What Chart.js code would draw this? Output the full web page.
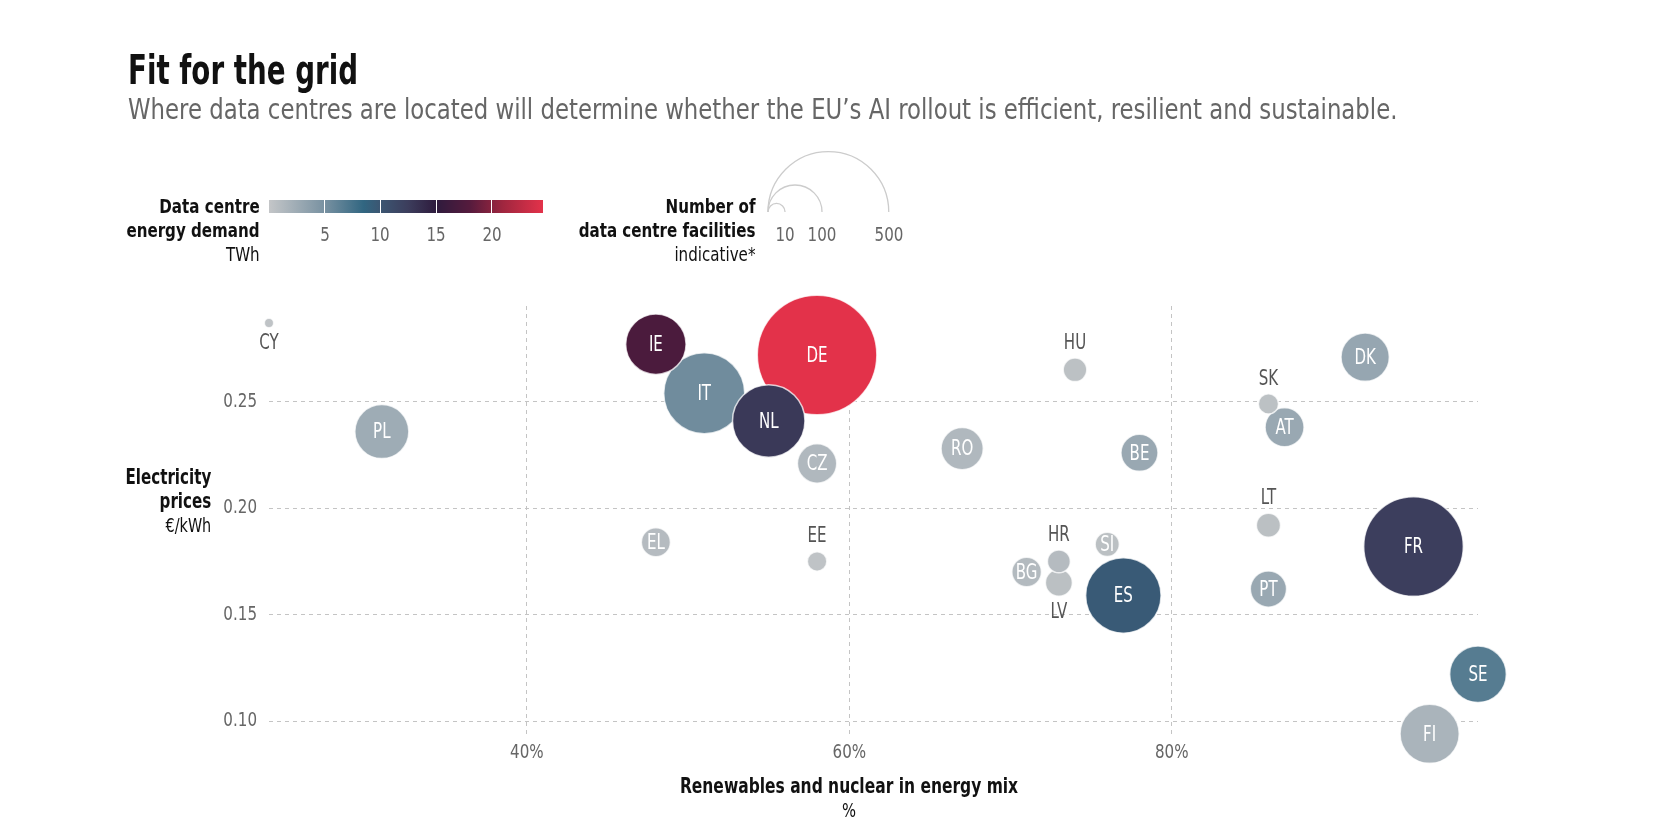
<!DOCTYPE html>
<html>
<head>
<meta charset="utf-8">
<script src="https://cdn.jsdelivr.net/npm/chart.js@4.4.1/dist/chart.umd.min.js"></script>
<style>
  html, body { margin: 0; padding: 0; background: #fff; }
  body { width: 1654px; height: 818px; position: relative; overflow: hidden;
         font-family: "Liberation Sans Narrow", "DejaVu Sans Condensed", "Roboto", sans-serif; }
  #chart { position: absolute; left: 0; top: 0; }
  .txt { position: absolute; white-space: nowrap; line-height: 1; }
  .title { left: 128px; top: 50px; font-size: 40px; font-weight: bold; color: #111;
           transform: scaleX(0.77); transform-origin: left top; }
  .sub { left: 128px; top: 96px; font-size: 28.5px; color: #666;
         transform: scaleX(0.89); transform-origin: left top; }
  .lgd { text-align: right; font-size: 20px; line-height: 24px; color: #111;
         transform: scaleX(0.84); transform-origin: right top; }
  .tick { font-size: 20px; color: #666; transform: translateX(-50%) scaleX(0.84); }
  .axt { font-size: 21px; line-height: 24px; color: #111; }
</style>
</head>
<body>
<canvas id="chart" width="1654" height="818"></canvas>

<div class="txt title">Fit for the grid</div>
<div class="txt sub">Where data centres are located will determine whether the EU’s AI rollout is efficient, resilient and sustainable.</div>

<div class="txt lgd" style="right:1394px; top:194px;"><b>Data centre<br>energy demand</b><br>TWh</div>
<div id="colorbar" style="position:absolute; left:269px; top:200px; width:274px; height:13px;"></div>
<div id="colorticks"></div>

<div class="txt lgd" style="right:899px; top:194px;"><b>Number of<br>data centre facilities</b><br>indicative*</div>
<svg id="sizelegend" style="position:absolute; left:0; top:0;" width="1654" height="260"></svg>
<div id="sizeticks"></div>

<div class="txt axt" style="right:1443px; top:465px; text-align:right; transform:scaleX(0.8); transform-origin:right top;"><b>Electricity<br>prices</b><br><span style="font-size:20px">€/kWh</span></div>
<div class="txt axt" style="left:849px; top:774px; text-align:center; transform:translateX(-50%) scaleX(0.82);"><b>Renewables and nuclear in energy mix</b><br><span style="font-size:20px">%</span></div>

<script>
// dados
const paises = ['CY', 'PL', 'IE', 'IT', 'DE', 'NL', 'CZ', 'EL', 'EE', 'RO', 'HU', 'BE', 'HR',
  'SI', 'BG', 'LV', 'ES', 'SK', 'AT', 'DK', 'LT', 'PT', 'FR', 'SE', 'FI'];
const renovaveis = [24, 31, 48, 51, 58, 55, 58, 48, 58, 67, 74, 78, 73,
  76, 71, 73, 77, 86, 87, 92, 86, 86, 95, 99, 96];
const precos = [0.287, 0.236, 0.277, 0.254, 0.272, 0.241, 0.221, 0.184, 0.175, 0.228, 0.265, 0.226, 0.175,
  0.183, 0.170, 0.165, 0.159, 0.249, 0.238, 0.271, 0.192, 0.162, 0.182, 0.122, 0.094];
const instalacoes = [3, 100, 125, 225, 490, 180, 53, 29, 13, 61, 19, 47, 18,
  20, 30, 25, 195, 14, 52, 80, 20, 45, 340, 110, 120];
const demandaTWh = [0.3, 2.5, 17.2, 5.4, 24.6, 12.8, 1.3, 1.0, 0.3, 1.3, 0.5, 2.8, 1.0,
  0.6, 1.1, 0.6, 9.6, 0.5, 2.8, 3.0, 0.6, 2.8, 12.4, 6.7, 1.7];

const ticksX = [40, 60, 80];
const ticksY = [0.10, 0.15, 0.20, 0.25];
const ticksDemanda = [5, 10, 15, 20];
const legendaInstalacoes = [10, 100, 500];

// rótulos fora da bolha (acima/abaixo)
const rotulosFora = { CY: 'below', EE: 'above', HU: 'above', HR: 'above', LV: 'below', SK: 'above', LT: 'above' };

// escala de cor
const paradas = [0, 5, 8.5, 10, 12.5, 15, 18, 21, 24.6];
const coresParadas = ['#c4c6c8', '#7891a1', '#316681', '#3c5672', '#3c3d5c', '#2e1b3d', '#551b3d', '#a0263f', '#e3324a'];
const maxDemanda = 24.6;
const fatorRaio = 2.7;
const fonteCanvas = '"Liberation Sans Narrow", "DejaVu Sans Condensed", sans-serif';

function hexParaRgb(h) {
  return [parseInt(h.slice(1, 3), 16), parseInt(h.slice(3, 5), 16), parseInt(h.slice(5, 7), 16)];
}
function corDemanda(v) {
  for (let i = 0; i < paradas.length - 1; i++) {
    if (v <= paradas[i + 1]) {
      const t = (v - paradas[i]) / (paradas[i + 1] - paradas[i]);
      const a = hexParaRgb(coresParadas[i]), b = hexParaRgb(coresParadas[i + 1]);
      const c = a.map((x, k) => Math.round(x + (b[k] - x) * t));
      return `rgb(${c[0]},${c[1]},${c[2]})`;
    }
  }
  return coresParadas[coresParadas.length - 1];
}
const raio = n => fatorRaio * Math.sqrt(n);

// texto estreito no canvas (a fonte original é condensada)
function textoEstreito(ctx, txt, x, y, sx) {
  ctx.save();
  ctx.translate(x, y);
  ctx.scale(sx, 1);
  ctx.fillText(txt, 0, 0);
  ctx.restore();
}

// legenda de cor
const barra = document.getElementById('colorbar');
barra.style.background = 'linear-gradient(to right,' +
  paradas.map((p, i) => `${coresParadas[i]} ${(p / maxDemanda * 100).toFixed(2)}%`).join(',') + ')';
ticksDemanda.forEach(t => {
  const x = t / maxDemanda * 274;
  const sep = document.createElement('div');
  sep.style.cssText = `position:absolute; left:${x - 0.5}px; top:0; width:1px; height:13px; background:#fff;`;
  barra.appendChild(sep);
  const lbl = document.createElement('div');
  lbl.className = 'txt tick';
  lbl.style.left = (269 + x) + 'px';
  lbl.style.top = '224px';
  lbl.textContent = t;
  document.getElementById('colorticks').appendChild(lbl);
});

// legenda de tamanho
const svg = document.getElementById('sizelegend');
const baseX = 768, baseY = 212;
legendaInstalacoes.forEach(n => {
  const r = raio(n);
  const p = document.createElementNS('http://www.w3.org/2000/svg', 'path');
  p.setAttribute('d', `M ${baseX} ${baseY} A ${r} ${r} 0 0 1 ${baseX + 2 * r} ${baseY}`);
  p.setAttribute('fill', 'none');
  p.setAttribute('stroke', '#cccccc');
  p.setAttribute('stroke-width', '1.3');
  svg.appendChild(p);
  const lbl = document.createElement('div');
  lbl.className = 'txt tick';
  lbl.style.left = (baseX + 2 * r) + 'px';
  lbl.style.top = '224px';
  lbl.textContent = n;
  document.getElementById('sizeticks').appendChild(lbl);
});

// maiores desenhadas primeiro
const ordem = paises.map((p, i) => i).sort((a, b) => instalacoes[b] - instalacoes[a]);
const pontos = ordem.map(i => ({ x: renovaveis[i], y: precos[i], r: raio(instalacoes[i]), pais: paises[i] }));
const cores = ordem.map(i => corDemanda(demandaTWh[i]));

const rotulosPlugin = {
  id: 'rotulos',
  afterDatasetsDraw(chart) {
    const ctx = chart.ctx;
    const meta = chart.getDatasetMeta(0);
    ctx.save();
    ctx.font = '22px ' + fonteCanvas;
    ctx.textAlign = 'center';
    ctx.textBaseline = 'middle';
    meta.data.forEach((el, i) => {
      const d = pontos[i];
      const pos = rotulosFora[d.pais];
      if (pos === 'above') {
        ctx.fillStyle = '#555';
        textoEstreito(ctx, d.pais, el.x, el.y - d.r - 15, 0.76);
      } else if (pos === 'below') {
        ctx.fillStyle = '#555';
        textoEstreito(ctx, d.pais, el.x, el.y + d.r + 16, 0.76);
      } else {
        ctx.fillStyle = '#fff';
        textoEstreito(ctx, d.pais, el.x, el.y + 1, 0.76);
      }
    });

    // rótulos dos eixos
    const sx = chart.scales.x, sy = chart.scales.y;
    ctx.font = '20px ' + fonteCanvas;
    ctx.fillStyle = '#666';
    ctx.textAlign = 'center';
    ticksX.forEach(v => textoEstreito(ctx, v + '%', sx.getPixelForValue(v), sx.top + 19, 0.84));
    ctx.textAlign = 'right';
    ticksY.forEach(v => textoEstreito(ctx, v.toFixed(2), sy.right - 12, sy.getPixelForValue(v), 0.84));
    ctx.restore();
  }
};

new Chart(document.getElementById('chart'), {
  type: 'bubble',
  data: {
    datasets: [{
      data: pontos,
      backgroundColor: cores,
      borderColor: 'rgba(255,255,255,0.75)',
      borderWidth: 1.5,
      clip: false,
    }],
  },
  options: {
    responsive: false,
    animation: false,
    events: [],
    devicePixelRatio: 1,
    layout: { padding: { left: 209, right: 176, top: 306, bottom: 44 } },
    plugins: { legend: { display: false }, tooltip: { enabled: false } },
    scales: {
      x: {
        type: 'linear',
        min: 24,
        max: 99,
        afterBuildTicks: s => { s.ticks = ticksX.map(v => ({ value: v })); },
        afterFit: s => { s.height = 40; },
        grid: { color: '#c4c4c4', lineWidth: 1, drawTicks: false },
        border: { display: false, dash: [4, 4] },
        ticks: { display: false },
      },
      y: {
        type: 'linear',
        min: 0.0939,
        max: 0.295,
        afterBuildTicks: s => { s.ticks = ticksY.map(v => ({ value: v })); },
        afterFit: s => { s.width = 60; },
        grid: { color: '#c4c4c4', lineWidth: 1, drawTicks: false },
        border: { display: false, dash: [4, 4] },
        ticks: { display: false },
      },
    },
  },
  plugins: [rotulosPlugin],
});
</script>
</body>
</html>
